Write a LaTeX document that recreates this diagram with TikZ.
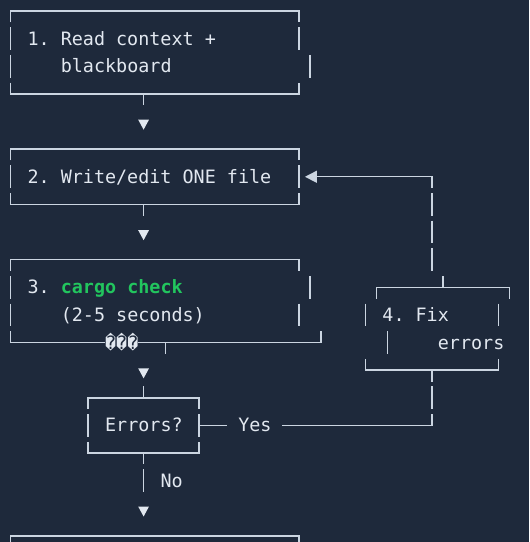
\documentclass[tikz,border=0pt]{standalone}
\usepackage{fontspec}
\setmonofont{DejaVu Sans Mono}
\usepackage{tikz}
\usetikzlibrary{arrows.meta,shapes.geometric,positioning,calc}
\definecolor{bgc}{HTML}{1E293B}
\definecolor{artc}{HTML}{CBD5E1}
\definecolor{txtc}{HTML}{E2E8F0}
\definecolor{okc}{HTML}{22C55E}
\tikzstyle{art}=[draw=artc,line width=0.7pt]
\tikzstyle{term}=[text=txtc,font=\ttfamily\fontsize{9.2}{11}\selectfont,inner sep=0pt,anchor=base west]
\tikzstyle{downtip}=[isosceles triangle,isosceles triangle stretches,shape border rotate=-90,fill=txtc,inner sep=0pt,minimum width=5.4pt,minimum height=5pt]
\newcommand{\halfbar}{0.41}

\begin{document}
\begin{tikzpicture}[x=5.545pt,y=-13.815pt]
  \fill[bgc] (-0.947,-0.398) rectangle (46.754,19.218);
  \useasboundingbox (-0.947,-0.398) rectangle (46.754,19.218);

  % Box 1: read context
  \draw[art] (0,\halfbar) -- (0,0) -- (26,0) -- (26,\halfbar);
  \draw[art] (0,1-\halfbar) -- (0,1+\halfbar);
  \draw[art] (26,1-\halfbar) -- (26,1+\halfbar);
  \draw[art] (0,2-\halfbar) -- (0,2+\halfbar);
  \draw[art] (27,2-\halfbar) -- (27,2+\halfbar);
  \draw[art] (0,3-\halfbar) -- (0,3) -- (26,3) -- (26,3-\halfbar);
  \node[term] (readTxt) at (1.5,1.235) {1. Read context +};
  \node[term] (readTxtB) at (4.5,2.235) {blackboard};

  \coordinate (readOut) at (12,3);
  \draw[art] (readOut) -- ++(0,\halfbar);
  \node[downtip] (tipA) at (12,4.05) {};

  % Box 2: write one file
  \draw[art] (0,5+\halfbar) -- (0,5) -- (26,5) -- (26,5+\halfbar);
  \draw[art] (0,6-\halfbar) -- (0,6+\halfbar);
  \draw[art] (26,6-\halfbar) -- (26,6+\halfbar);
  \draw[art] (0,7-\halfbar) -- (0,7) -- (26,7) -- (26,7-\halfbar);
  \node[term] (writeTxt) at (1.5,6.235) {2. Write/edit ONE file};

  \coordinate (writeOut) at (12,7);
  \draw[art] (writeOut) -- ++(0,\halfbar);
  \node[downtip] (tipB) at (12,8.05) {};

  % Loop back from the fix box
  \coordinate (loopTop) at (38,6);
  \coordinate (writeIn) at (26.55,6);
  \draw[art,-{Triangle[length=6pt,width=6pt]}]
  ($(loopTop)+(0,\halfbar)$) -- (loopTop) -- (writeIn);
  \draw[art] (38,7-\halfbar) -- (38,7+\halfbar);
  \draw[art] (38,8-\halfbar) -- (38,8+\halfbar);
  \draw[art] (38,9-\halfbar) -- (38,9+\halfbar);

  % Box 3: cargo check
  \draw[art] (0,9+\halfbar) -- (0,9) -- (26,9) -- (26,9+\halfbar);
  \draw[art] (0,10-\halfbar) -- (0,10+\halfbar);
  \draw[art] (27,10-\halfbar) -- (27,10+\halfbar);
  \draw[art] (0,11-\halfbar) -- (0,11+\halfbar);
  \draw[art] (26,11-\halfbar) -- (26,11+\halfbar);
  \draw[art] (0,12-\halfbar) -- (0,12) -- (8.5,12);
  \draw[art] (11.5,12) -- (28,12) -- (28,12-\halfbar);
  \node[term] (checkNum) at (1.5,10.235) {3.};
  \node[term,text=okc,font=\ttfamily\bfseries\fontsize{9.2}{11}\selectfont]
  (checkTxt) at (4.5,10.235) {cargo check};
  \node[term] (checkTime) at (4.5,11.235) {(2-5 seconds)};
  \node[term] (glitch) at (8.5,12.235) {\char"FFFD\char"FFFD\char"FFFD};

  \coordinate (checkOut) at (14,12);
  \draw[art] (checkOut) -- ++(0,\halfbar);
  \node[downtip] (tipC) at (12,13.05) {};

  % Box 4: fix errors
  \draw[art] (33,10+\halfbar) -- (33,10) -- (45,10) -- (45,10+\halfbar);
  \draw[art] (39,10) -- (39,10-\halfbar);
  \draw[art] (32,11-\halfbar) -- (32,11+\halfbar);
  \draw[art] (44,11-\halfbar) -- (44,11+\halfbar);
  \draw[art] (34,12-\halfbar) -- (34,12+\halfbar);
  \draw[art] (32,13-\halfbar) -- (32,13) -- (44,13) -- (44,13-\halfbar);
  \node[term] (fixTxt) at (33.5,11.235) {4. Fix};
  \node[term] (fixTxtB) at (38.5,12.235) {errors};

  % Decision: errors?
  \draw[art] (7,14+\halfbar) -- (7,14) -- (17,14) -- (17,14+\halfbar);
  \draw[art] (12,14) -- (12,14-\halfbar);
  \draw[art] (7,15-\halfbar) -- (7,15+\halfbar);
  \draw[art] (17,15-\halfbar) -- (17,15+\halfbar);
  \draw[art] (7,16-\halfbar) -- (7,16) -- (17,16) -- (17,16-\halfbar);
  \node[term] (errTxt) at (8.5,15.235) {Errors?};

  % Yes: back to the fix box
  \node[term] (yesTxt) at (20.5,15.235) {Yes};
  \coordinate (fixIn) at (38,13);
  \draw[art] (17,15) -- (19.5,15);
  \draw[art] (24.5,15) -- (38,15) -- (38,15-\halfbar);
  \draw[art] (38,14-\halfbar) -- (38,14+\halfbar);
  \draw[art] (fixIn) -- ++(0,\halfbar);

  % No: on to the next box
  \coordinate (errOut) at (12,16);
  \draw[art] (errOut) -- ++(0,\halfbar);
  \draw[art] (12,17-\halfbar) -- (12,17+\halfbar);
  \node[term] (noTxt) at (13.5,17.235) {No};
  \node[downtip] (tipD) at (12,18.05) {};

  \draw[art] (0,19+\halfbar) -- (0,19) -- (26,19) -- (26,19+\halfbar);
\end{tikzpicture}
\end{document}
